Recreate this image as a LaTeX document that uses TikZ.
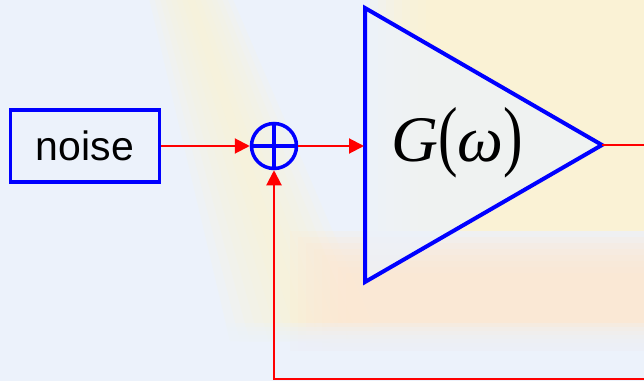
\documentclass[tikz,border=0pt]{standalone}
\usepackage{fontspec}
\setmainfont{Liberation Serif}
\setsansfont{Liberation Sans}
\usetikzlibrary{arrows.meta}
\definecolor{bgblue}{RGB}{236,242,251}
\definecolor{softyellow}{RGB}{255,242,208}
\definecolor{softpeach}{RGB}{255,232,208}
\definecolor{myblue}{RGB}{0,0,255}
\definecolor{myred}{RGB}{255,0,0}
\tikzset{
  blockline/.style={draw=myblue, line width=3.5pt},
  sig/.style={draw=myred, line width=2pt, -{Triangle[length=15pt,width=15pt]}},
  sigplain/.style={draw=myred, line width=2pt},
  haze/.style={fill opacity=0.13},
  hazestrong/.style={fill opacity=0.2},
}
\begin{document}
\begin{tikzpicture}[x=1pt,y=1pt]
\useasboundingbox (0,0) rectangle (644,381);
% background
\fill[bgblue] (0,0) rectangle (644,381);
% diagonal soft band
\foreach \w in {1.0,0.87,...,0.05}
  \fill[softyellow, haze] (185-40*\w,400) -- (185+40*\w,400) -- (305+75*\w,40) -- (305-75*\w,40) -- cycle;
% upper right yellow
\foreach \k in {0,...,7}
  \fill[softyellow, hazestrong] (370+8*\k,150) rectangle (700,420);
% peach zone under the triangle
\foreach \k in {0,...,7}
  \fill[softpeach, hazestrong] (290+8*\k,30) rectangle (700,150-6*\k);
% bottom blue strip
\foreach \k in {0,...,7}
  \fill[bgblue, fill opacity=0.3] (0,0) rectangle (700,58-4*\k);
% blocks
\node[blockline, minimum width=149pt, minimum height=72pt, inner sep=0pt,
      font=\sffamily\fontsize{41}{41}\selectfont] (noise) at (85,235) {noise};
\node[blockline, circle, minimum size=45pt, inner sep=0pt] (sum) at (274,235) {};
\draw[myblue, line width=3.5pt] ([yshift=22.5pt]sum.center) -- ([yshift=-22.5pt]sum.center)
                                ([xshift=-22.5pt]sum.center) -- ([xshift=22.5pt]sum.center);
\coordinate (tl) at (365,373);
\coordinate (bl) at (365,99);
\coordinate (apex) at (602,236);
\coordinate (gin) at (365,235);
\fill[bgblue, fill opacity=0.75] (tl) -- (apex) -- (bl) -- cycle;
\draw[myblue, line width=4pt, line join=miter] (tl) -- (apex) -- (bl) -- cycle;
\node[font=\fontsize{65}{65}\selectfont, inner sep=0pt] (gtext) at (457,238)
  {\itshape G\upshape\scalebox{0.9}[1.2]{(}\itshape ω\upshape\scalebox{0.9}[1.2]{)}};
\coordinate (outend) at (644,236);
\coordinate (fbright) at (644,2);
\coordinate (fbleft) at (274,2);
% connectors
\draw[sig] (noise.east) -- (sum.west);
\draw[sig] (sum.east) -- ([xshift=-1pt]gin);
\draw[sigplain] (apex) -- (outend);
\draw[sig] (fbright) -- (fbleft) -- (sum.south);
\end{tikzpicture}
\end{document}
